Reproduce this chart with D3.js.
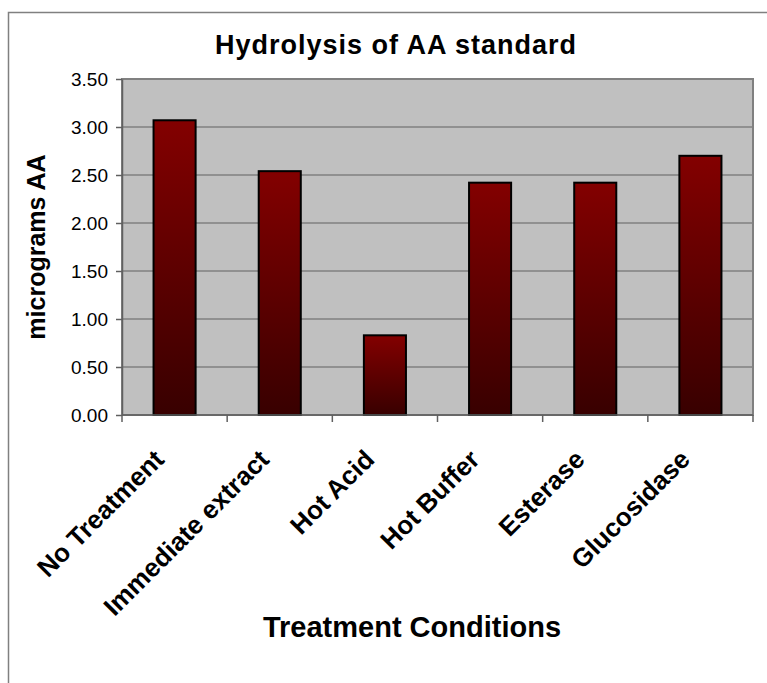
<!DOCTYPE html>
<meta charset="utf-8">
<style>
    body { margin: 0; background: #fff; }
    text { font-family: Arial, "Liberation Sans", sans-serif; fill: #000; }
    .grid line { stroke: #808080; stroke-width: 1.5px; }
</style>
<svg id="chart" width="767" height="683"></svg>
<script src="https://cdnjs.cloudflare.com/ajax/libs/d3/7.8.5/d3.min.js"></script>
<script>

    var categories = ["No Treatment", "Immediate extract", "Hot Acid", "Hot Buffer", "Esterase", "Glucosidase"];
    var values = [3.07, 2.54, 0.83, 2.42, 2.42, 2.70];
    var yTicks = [0, 0.5, 1.0, 1.5, 2.0, 2.5, 3.0, 3.5];

    var svg = d3.select("#chart");

    var plot = {left: 122, top: 79, right: 753, bottom: 415};

    // outer chart border (runs off the right and bottom edges)
    svg.append("rect")
        .attr("x", 8.5).attr("y", 12.5)
        .attr("width", 800).attr("height", 700)
        .attr("fill", "#fff")
        .attr("stroke", "#808080")
        .attr("stroke-width", 1.5);

    var defs = svg.append("defs");
    var grad = defs.append("linearGradient")
        .attr("id", "barGrad")
        .attr("x1", 0).attr("y1", 0).attr("x2", 0).attr("y2", 1);
    grad.append("stop").attr("offset", "0%").attr("stop-color", "#830000");
    grad.append("stop").attr("offset", "100%").attr("stop-color", "#380000");

    var x = d3.scaleBand()
        .domain(categories)
        .range([plot.left, plot.right])
        .paddingInner(0.6)
        .paddingOuter(0.3);

    var y = d3.scaleLinear()
        .domain([0, 3.5])
        .range([plot.bottom, plot.top]);

    // plot background
    svg.append("rect")
        .attr("x", plot.left).attr("y", plot.top)
        .attr("width", plot.right - plot.left)
        .attr("height", plot.bottom - plot.top)
        .attr("fill", "#c0c0c0")
        .attr("stroke", "#808080")
        .attr("stroke-width", 2);

    svg.append("g")
        .attr("class", "grid")
        .selectAll("line")
        .data(yTicks.filter(function(d) { return d > 0 && d < 3.5; }))
        .enter().append("line")
        .attr("x1", plot.left).attr("x2", plot.right)
        .attr("y1", function(d) { return y(d); })
        .attr("y2", function(d) { return y(d); });

    svg.append("g")
        .selectAll("rect")
        .data(values)
        .enter().append("rect")
        .attr("x", function(d, i) { return x(categories[i]); })
        .attr("y", function(d) { return y(d); })
        .attr("width", x.bandwidth())
        .attr("height", function(d) { return y(0) - y(d); })
        .attr("fill", "url(#barGrad)")
        .attr("stroke", "#000")
        .attr("stroke-width", 2);

    // y axis
    var yAxis = svg.append("g")
        .attr("transform", "translate(" + plot.left + ",0)")
        .call(d3.axisLeft(y).tickValues(yTicks).tickFormat(d3.format(".2f")).tickSizeInner(6).tickSizeOuter(0).tickPadding(8));
    yAxis.select(".domain").attr("stroke", "#606060").attr("stroke-width", 1.5);
    yAxis.selectAll(".tick line").attr("stroke", "#606060").attr("stroke-width", 1.5);
    yAxis.selectAll(".tick text")
        .style("font-size", "19px")
        .attr("dy", "0.35em")
        .attr("fill", "#000");

    // x axis with ticks at band edges
    var edges = d3.range(categories.length + 1).map(function(i) {
        return plot.left + i * (plot.right - plot.left) / categories.length;
    });
    svg.append("line")
        .attr("x1", plot.left).attr("x2", plot.right)
        .attr("y1", plot.bottom).attr("y2", plot.bottom)
        .attr("stroke", "#606060").attr("stroke-width", 1.5);
    svg.append("g")
        .selectAll("line")
        .data(edges)
        .enter().append("line")
        .attr("x1", function(d) { return d; }).attr("x2", function(d) { return d; })
        .attr("y1", plot.bottom).attr("y2", plot.bottom + 7)
        .attr("stroke", "#606060").attr("stroke-width", 1.5);

    svg.append("g")
        .selectAll("text")
        .data(categories)
        .enter().append("text")
        .attr("transform", function(d) {
            return "translate(" + (x(d) + x.bandwidth() / 2 - 9) + "," + (plot.bottom + 46) + ") rotate(-45)";
        })
        .attr("text-anchor", "end")
        .style("font-size", "26px")
        .style("font-weight", "bold")
        .text(function(d) { return d; });

    // titles
    svg.append("text")
        .attr("x", 396).attr("y", 54)
        .attr("text-anchor", "middle")
        .style("font-size", "27px")
        .style("font-weight", "bold")
        .style("letter-spacing", "1px")
        .text("Hydrolysis of AA standard");

    svg.append("text")
        .attr("transform", "translate(45,247) rotate(-90)")
        .attr("text-anchor", "middle")
        .style("font-size", "25px")
        .style("font-weight", "bold")
        .text("micrograms AA");

    svg.append("text")
        .attr("x", 412).attr("y", 637)
        .attr("text-anchor", "middle")
        .style("font-size", "29px")
        .style("font-weight", "bold")
        .text("Treatment Conditions");

</script>
